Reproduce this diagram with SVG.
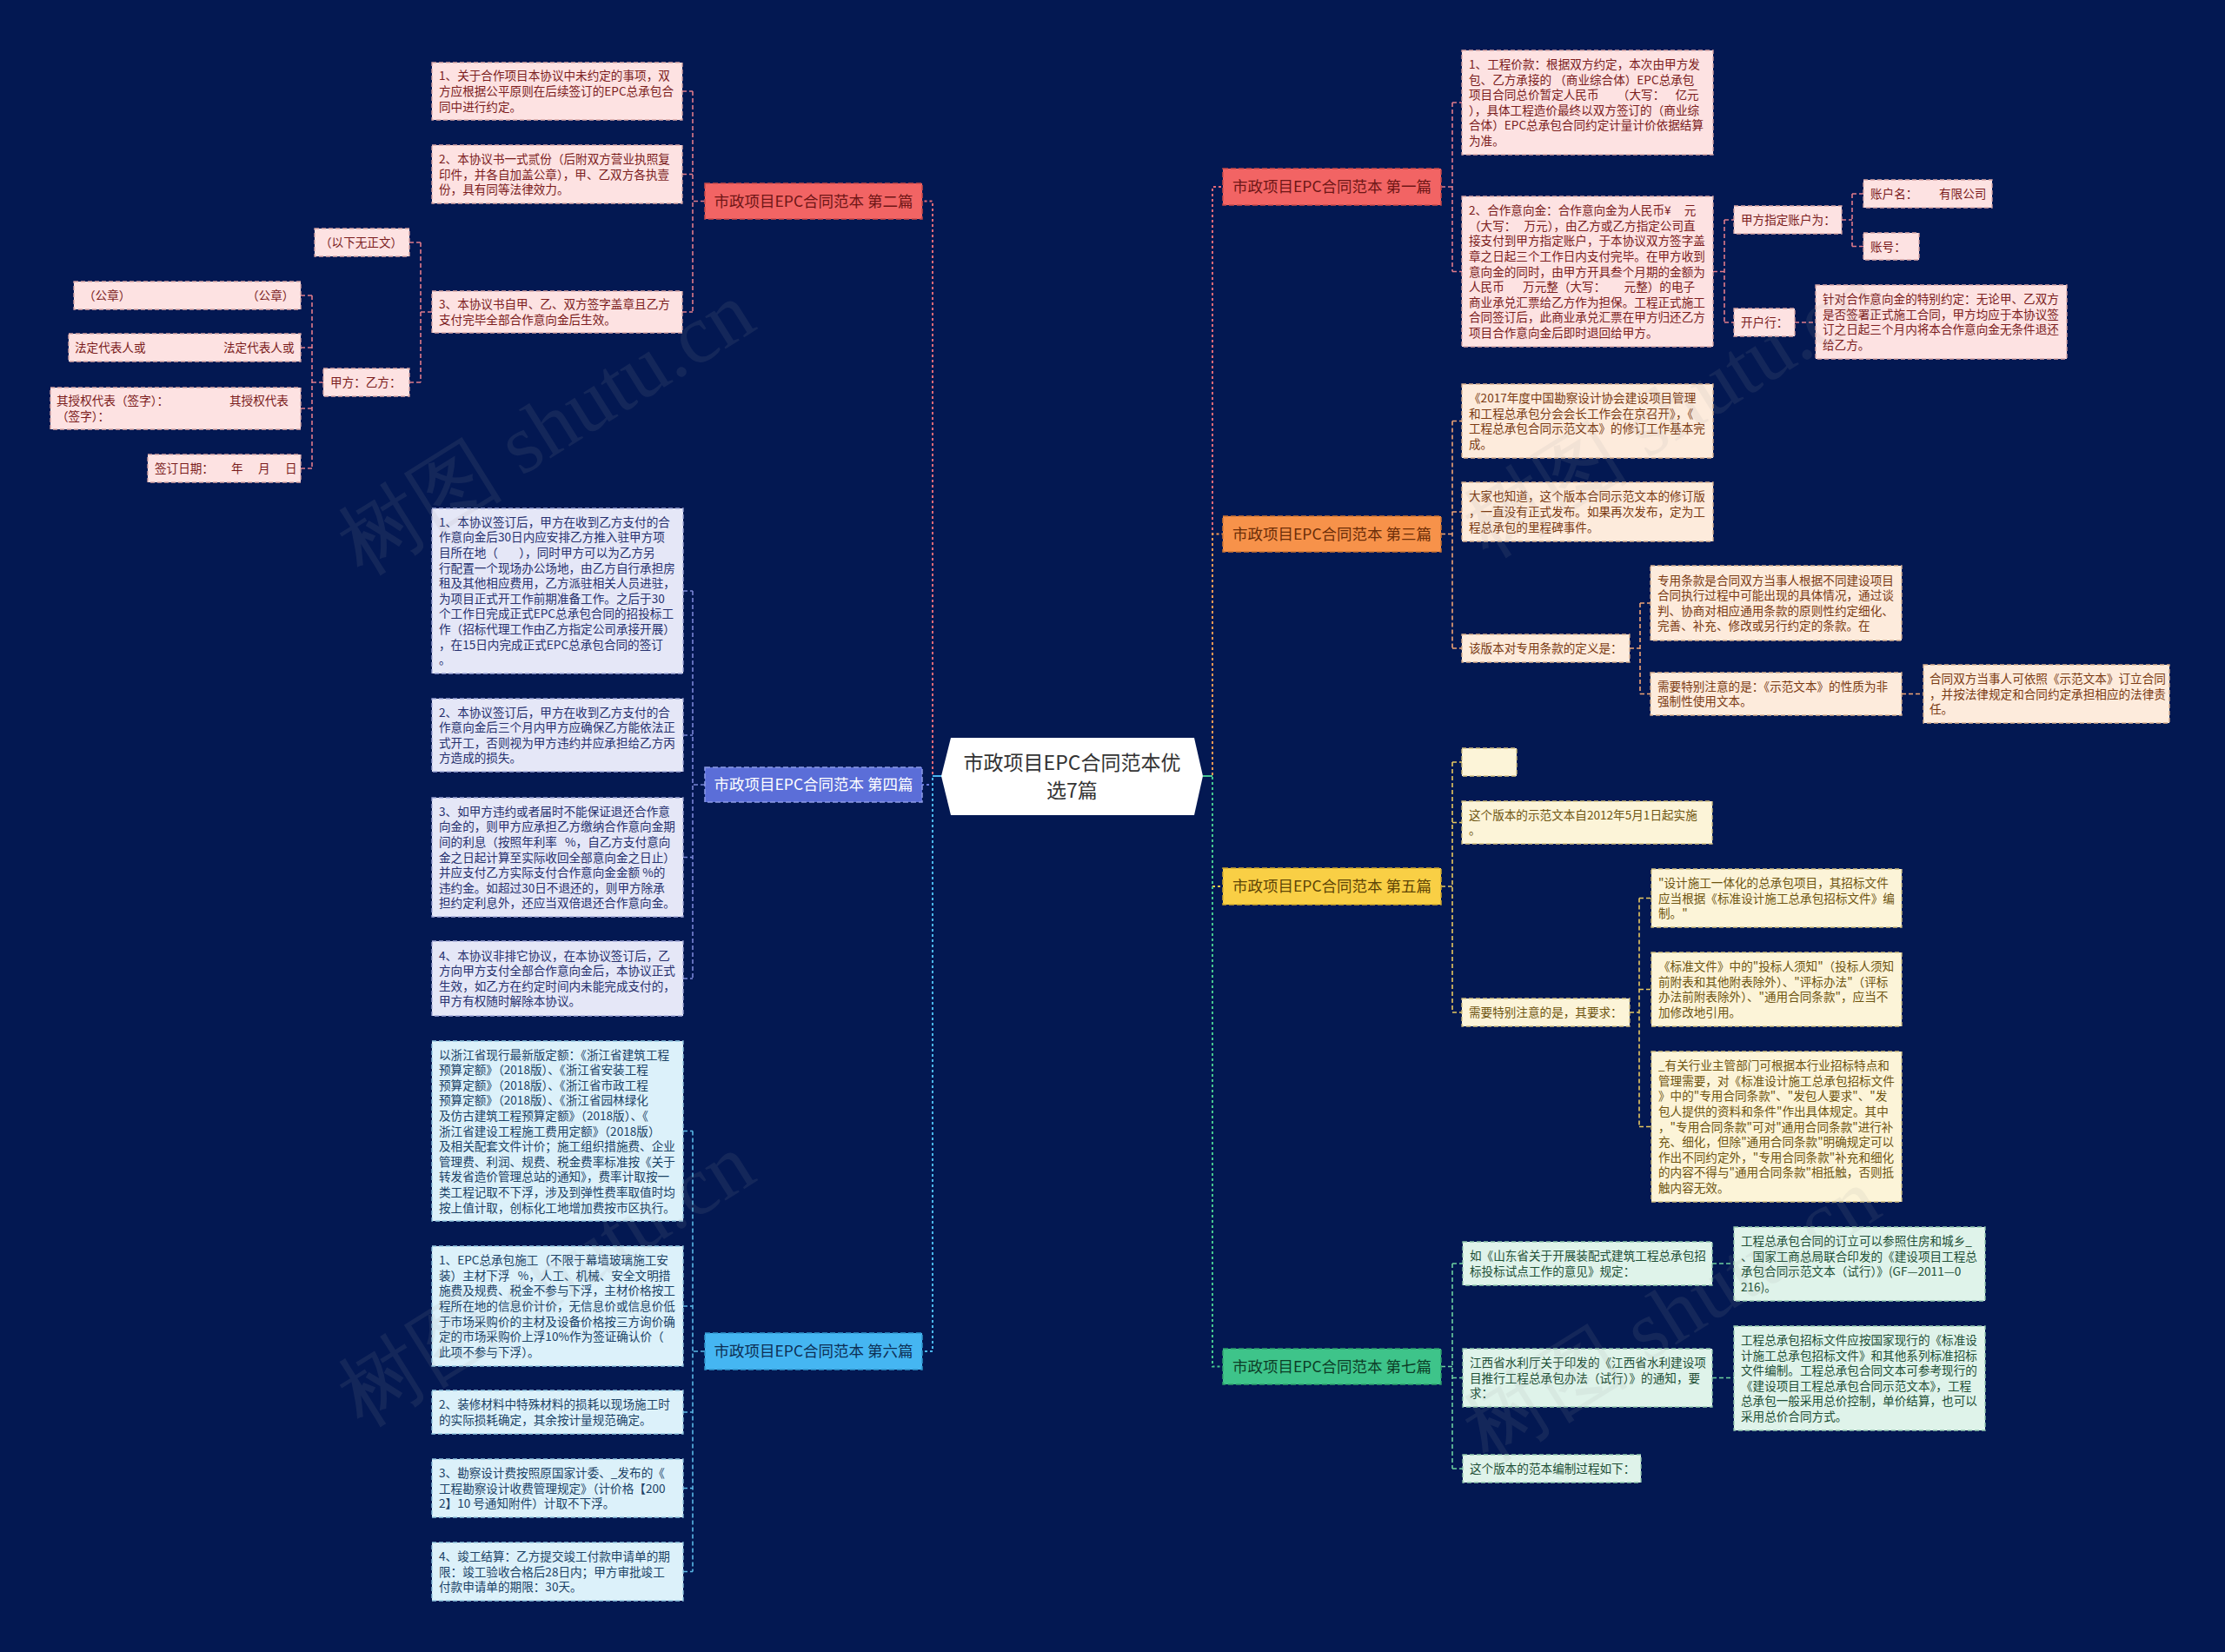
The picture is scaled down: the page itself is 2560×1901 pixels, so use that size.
<svg xmlns="http://www.w3.org/2000/svg" width="2560" height="1901" viewBox="0 0 2560 1901">
<style>
text{font-family:"Noto Sans CJK SC","Microsoft YaHei","Noto Sans",sans-serif;}
.t{font-size:13.6px;}
.bx{stroke-width:1.3;stroke-dasharray:5 3;}
.pk{fill:#fde2e2;stroke:#d9a6a6;}
.pkt{fill:#7b1c1c;}
.pe{fill:#fdebdc;stroke:#d9b08e;}
.pet{fill:#7a3a12;}
.ye{fill:#fcf4d8;stroke:#d2bf80;}
.yet{fill:#6e5410;}
.gr{fill:#dff3ea;stroke:#94c9ae;}
.grt{fill:#1e4f36;}
.lv{fill:#e5e7f7;stroke:#a3a9d8;}
.lvt{fill:#26306e;}
.cy{fill:#dcf1fa;stroke:#92c6e0;}
.cyt{fill:#1a4266;}
.br{stroke-width:1.5;stroke-dasharray:6 3;}
.bt{font-size:17.5px;text-anchor:middle;}
.cn{fill:none;stroke-width:1.6;stroke-dasharray:5 3;}
.mc{fill:none;stroke-width:2;stroke-dasharray:3 3;}
.wm{font-family:"Liberation Serif",serif;font-size:96px;fill:#a0a0a0;opacity:0.11;}
</style>
<rect width="2560" height="1901" fill="#031852"/>

<g id="connectors">
  <path class="mc" stroke="#e56b78" d="M1083,893 H1073 V231.5 H1061"/>
  <path class="mc" stroke="#6878d8" d="M1083,893 H1073 V903 H1061"/>
  <path class="mc" stroke="#4ab7ee" d="M1083,893 H1073 V1555 H1061"/>
  <path class="mc" stroke="#e56b78" d="M1384,893 H1395 V215 H1407"/>
  <path class="mc" stroke="#f39a55" d="M1384,893 H1395 V614.5 H1407"/>
  <path class="mc" stroke="#f2cb45" d="M1384,893 H1395 V1020 H1407"/>
  <path class="mc" stroke="#45c690" d="M1384,893 H1395 V1572.5 H1407"/>
  <path fill="none" stroke="#4ab7ee" stroke-width="2" d="M1073,893 H1084"/>
  <path fill="none" stroke="#45c690" stroke-width="2" d="M1384,893 H1395"/>

  <path class="cn" stroke="#e07b8a" d="M811,231.5 H797 M797,105 V359 M785,105 H797 M785,200.5 H797 M785,359 H797"/>
  <path class="cn" stroke="#e07b8a" d="M497,359 H484 M484,279 V440 M471,279 H484 M471,440 H484"/>
  <path class="cn" stroke="#e07b8a" d="M372,440 H359 M359,340 V539 M346,340 H359 M346,400 H359 M346,470 H359 M346,539 H359"/>
  <path class="cn" stroke="#7a85d6" d="M811,903 H797 M797,680 V1126 M786,680 H797 M786,846 H797 M786,986.5 H797 M786,1126 H797"/>
  <path class="cn" stroke="#5ab8e6" d="M811,1555 H797 M797,1301.5 V1808.5 M786,1301.5 H797 M786,1503 H797 M786,1625 H797 M786,1712.5 H797 M786,1808.5 H797"/>
  <path class="cn" stroke="#e07b8a" d="M1658,215 H1671 M1671,118 V312.5 M1671,118 H1682 M1671,312.5 H1682"/>
  <path class="cn" stroke="#e07b8a" d="M1971,312.5 H1984 M1984,253 V371 M1984,253 H1995 M1984,371 H1995"/>
  <path class="cn" stroke="#e07b8a" d="M2119,253 H2131 M2131,223 V283.5 M2131,223 H2144 M2131,283.5 H2144"/>
  <path class="cn" stroke="#e07b8a" d="M2065,371 H2089"/>
  <path class="cn" stroke="#f0a474" d="M1658,614.5 H1671 M1671,484.5 V746 M1671,484.5 H1682 M1671,589 H1682 M1671,746 H1682"/>
  <path class="cn" stroke="#f0a474" d="M1875,746 H1887 M1887,694 V798.5 M1887,694 H1899 M1887,798.5 H1899"/>
  <path class="cn" stroke="#f0a474" d="M2188,798.5 H2213"/>
  <path class="cn" stroke="#e8c860" d="M1658,1020 H1671 M1671,877 V1165 M1671,877 H1682 M1671,946.5 H1682 M1671,1165 H1682"/>
  <path class="cn" stroke="#e8c860" d="M1875,1165 H1886 M1886,1033.5 V1296.5 M1886,1033.5 H1900 M1886,1138.5 H1900 M1886,1296.5 H1900"/>
  <path class="cn" stroke="#6ccfa0" d="M1658,1572.5 H1671 M1671,1454 V1690 M1671,1454 H1683 M1671,1585.5 H1683 M1671,1690 H1683"/>
  <path class="cn" stroke="#6ccfa0" d="M1970,1454 H1995 M1970,1585.5 H1995"/>
</g>

<g id="center">
  <polygon points="1083,893 1094,849 1374,849 1384,893 1374,938 1094,938" fill="#ffffff"/>
  <text x="1233.5" y="886" font-size="23" fill="#333333" text-anchor="middle">市政项目EPC合同范本优</text>
  <text x="1233.5" y="918" font-size="23" fill="#333333" text-anchor="middle">选7篇</text>
</g>

<g id="b1"><rect class="br" x="1407" y="194" width="251" height="42" fill="#f26464" stroke="#c94848"/><text class="bt" x="1532.5" y="221" fill="#6e1616">市政项目EPC合同范本 第一篇</text></g>
<g id="b2"><rect class="br" x="811" y="211" width="250" height="41" fill="#f26464" stroke="#c94848"/><text class="bt" x="936" y="237.5" fill="#6e1616">市政项目EPC合同范本 第二篇</text></g>
<g id="b3"><rect class="br" x="1407" y="594" width="251" height="41" fill="#f7924a" stroke="#cf7432"/><text class="bt" x="1532.5" y="620.5" fill="#6b2d08">市政项目EPC合同范本 第三篇</text></g>
<g id="b4"><rect class="br" x="811" y="883" width="250" height="40" fill="#5b6ed8" stroke="#8d9ae6"/><text class="bt" x="936" y="909" fill="#ffffff">市政项目EPC合同范本 第四篇</text></g>
<g id="b5"><rect class="br" x="1407" y="999" width="251" height="42" fill="#f9cf45" stroke="#cfa82c"/><text class="bt" x="1532.5" y="1026" fill="#5e4506">市政项目EPC合同范本 第五篇</text></g>
<g id="b6"><rect class="br" x="811" y="1534" width="250" height="42" fill="#45b6f2" stroke="#2f94cc"/><text class="bt" x="936" y="1561" fill="#0d2f55">市政项目EPC合同范本 第六篇</text></g>
<g id="b7"><rect class="br" x="1407" y="1552" width="251" height="41" fill="#3ec48a" stroke="#2c9e6c"/><text class="bt" x="1532.5" y="1578.5" fill="#0c3d27">市政项目EPC合同范本 第七篇</text></g>

<g id="n2-1"><rect class="bx pk" x="497" y="72" width="288" height="66"/><text class="t pkt"><tspan x="505" y="92.4">1、关于合作项目本协议中未约定的事项，双</tspan><tspan x="505" y="110">方应根据公平原则在后续签订的EPC总承包合</tspan><tspan x="505" y="127.6">同中进行约定。</tspan></text></g>
<g id="n2-2"><rect class="bx pk" x="497" y="167" width="288" height="67"/><text class="t pkt"><tspan x="505" y="187.9">2、本协议书一式贰份（后附双方营业执照复</tspan><tspan x="505" y="205.5">印件，并各自加盖公章），甲、乙双方各执壹</tspan><tspan x="505" y="223.1">份，具有同等法律效力。</tspan></text></g>
<g id="n2-3"><rect class="bx pk" x="497" y="335" width="288" height="48"/><text class="t pkt"><tspan x="505" y="355.2">3、本协议书自甲、乙、双方签字盖章且乙方</tspan><tspan x="505" y="372.8">支付完毕全部合作意向金后生效。</tspan></text></g>
<g id="n2-3a"><rect class="bx pk" x="362" y="263" width="109" height="32"/><text class="t pkt" x="368" y="284">（以下无正文）</text></g>
<g id="n2-3b"><rect class="bx pk" x="372" y="424" width="99" height="32"/><text class="t pkt" x="380" y="445">甲方：乙方：</text></g>
<g id="n2-3b1"><rect class="bx pk" x="85" y="324" width="261" height="32"/><text class="t pkt"><tspan x="96" y="345">（公章）</tspan><tspan x="284" y="345">（公章）</tspan></text></g>
<g id="n2-3b2"><rect class="bx pk" x="79" y="384" width="267" height="32"/><text class="t pkt"><tspan x="86" y="405">法定代表人或</tspan><tspan x="257" y="405">法定代表人或</tspan></text></g>
<g id="n2-3b3"><rect class="bx pk" x="58" y="446" width="288" height="48"/><text class="t pkt"><tspan x="65" y="466.2">其授权代表（签字）：</tspan><tspan x="264" y="466.2">其授权代表</tspan><tspan x="65" y="483.8">（签字）：</tspan></text></g>
<g id="n2-3b4"><rect class="bx pk" x="170" y="523" width="176" height="32"/><text class="t pkt"><tspan x="178" y="544">签订日期：</tspan><tspan x="266" y="544">年</tspan><tspan x="297" y="544">月</tspan><tspan x="328" y="544">日</tspan></text></g>

<g id="n4-1"><rect class="bx lv" x="497" y="585" width="289" height="190"/><text class="t lvt"><tspan x="505" y="605.8">1、本协议签订后，甲方在收到乙方支付的合</tspan><tspan x="505" y="623.4">作意向金后30日内应安排乙方推入驻甲方项</tspan><tspan x="505" y="641" xml:space="preserve">目所在地（        ），同时甲方可以为乙方另</tspan><tspan x="505" y="658.6">行配置一个现场办公场地，由乙方自行承担房</tspan><tspan x="505" y="676.2">租及其他相应费用，乙方派驻相关人员进驻，</tspan><tspan x="505" y="693.8">为项目正式开工作前期准备工作。之后于30</tspan><tspan x="505" y="711.4">个工作日完成正式EPC总承包合同的招投标工</tspan><tspan x="505" y="729">作（招标代理工作由乙方指定公司承接开展）</tspan><tspan x="505" y="746.6">，在15日内完成正式EPC总承包合同的签订</tspan><tspan x="505" y="764.2">。</tspan></text></g>
<g id="n4-2"><rect class="bx lv" x="497" y="804" width="289" height="84"/><text class="t lvt"><tspan x="505" y="824.6">2、本协议签订后，甲方在收到乙方支付的合</tspan><tspan x="505" y="842.2">作意向金后三个月内甲方应确保乙方能依法正</tspan><tspan x="505" y="859.8">式开工，否则视为甲方违约并应承担给乙方丙</tspan><tspan x="505" y="877.4">方造成的损失。</tspan></text></g>
<g id="n4-3"><rect class="bx lv" x="497" y="918" width="289" height="137"/><text class="t lvt"><tspan x="505" y="938.7">3、如甲方违约或者届时不能保证退还合作意</tspan><tspan x="505" y="956.3">向金的，则甲方应承担乙方缴纳合作意向金期</tspan><tspan x="505" y="973.9" xml:space="preserve">间的利息（按照年利率   %，自乙方支付意向</tspan><tspan x="505" y="991.5">金之日起计算至实际收回全部意向金之日止）</tspan><tspan x="505" y="1009.1">并应支付乙方实际支付合作意向金金额 %的</tspan><tspan x="505" y="1026.7">违约金。如超过30日不退还的，则甲方除承</tspan><tspan x="505" y="1044.3">担约定利息外，还应当双倍退还合作意向金。</tspan></text></g>
<g id="n4-4"><rect class="bx lv" x="497" y="1083" width="289" height="86"/><text class="t lvt"><tspan x="505" y="1104.6">4、本协议非排它协议，在本协议签订后，乙</tspan><tspan x="505" y="1122.2">方向甲方支付全部合作意向金后，本协议正式</tspan><tspan x="505" y="1139.8">生效，如乙方在约定时间内未能完成支付的，</tspan><tspan x="505" y="1157.4">甲方有权随时解除本协议。</tspan></text></g>

<g id="n6-1"><rect class="bx cy" x="497" y="1198" width="289" height="207"/><text class="t cyt"><tspan x="505" y="1218.5">以浙江省现行最新版定额：《浙江省建筑工程</tspan><tspan x="505" y="1236.1">预算定额》（2018版）、《浙江省安装工程</tspan><tspan x="505" y="1253.7">预算定额》（2018版）、《浙江省市政工程</tspan><tspan x="505" y="1271.3">预算定额》（2018版）、《浙江省园林绿化</tspan><tspan x="505" y="1288.9">及仿古建筑工程预算定额》（2018版）、《</tspan><tspan x="505" y="1306.5">浙江省建设工程施工费用定额》（2018版）</tspan><tspan x="505" y="1324.1">及相关配套文件计价；施工组织措施费、企业</tspan><tspan x="505" y="1341.7">管理费、利润、规费、税金费率标准按《关于</tspan><tspan x="505" y="1359.3">转发省造价管理总站的通知》，费率计取按一</tspan><tspan x="505" y="1376.9">类工程记取不下浮，涉及到弹性费率取值时均</tspan><tspan x="505" y="1394.5">按上值计取，创标化工地增加费按市区执行。</tspan></text></g>
<g id="n6-2"><rect class="bx cy" x="497" y="1434" width="289" height="138"/><text class="t cyt"><tspan x="505" y="1455.2">1、EPC总承包施工（不限于幕墙玻璃施工安</tspan><tspan x="505" y="1472.8" xml:space="preserve">装）主材下浮   %，人工、机械、安全文明措</tspan><tspan x="505" y="1490.4">施费及规费、税金不参与下浮，主材价格按工</tspan><tspan x="505" y="1508">程所在地的信息价计价，无信息价或信息价低</tspan><tspan x="505" y="1525.6">于市场采购价的主材及设备价格按三方询价确</tspan><tspan x="505" y="1543.2">定的市场采购价上浮10%作为签证确认价（</tspan><tspan x="505" y="1560.8">此项不参与下浮）。</tspan></text></g>
<g id="n6-3"><rect class="bx cy" x="497" y="1600" width="289" height="50"/><text class="t cyt"><tspan x="505" y="1621.2">2、装修材料中特殊材料的损耗以现场施工时</tspan><tspan x="505" y="1638.8">的实际损耗确定，其余按计量规范确定。</tspan></text></g>
<g id="n6-4"><rect class="bx cy" x="497" y="1679" width="289" height="67"/><text class="t cyt"><tspan x="505" y="1699.9">3、勘察设计费按照原国家计委、_发布的《</tspan><tspan x="505" y="1717.5">工程勘察设计收费管理规定》（计价格【200</tspan><tspan x="505" y="1735.1">2】10 号通知附件）计取不下浮。</tspan></text></g>
<g id="n6-5"><rect class="bx cy" x="497" y="1775" width="289" height="67"/><text class="t cyt"><tspan x="505" y="1795.9">4、竣工结算：乙方提交竣工付款申请单的期</tspan><tspan x="505" y="1813.5">限：竣工验收合格后28日内；甲方审批竣工</tspan><tspan x="505" y="1831.1">付款申请单的期限：30天。</tspan></text></g>

<g id="n1-1"><rect class="bx pk" x="1682" y="58" width="289" height="120"/><text class="t pkt"><tspan x="1690" y="79">1、工程价款：根据双方约定，本次由甲方发</tspan><tspan x="1690" y="96.6">包、乙方承接的 （商业综合体）EPC总承包</tspan><tspan x="1690" y="114.2" xml:space="preserve">项目合同总价暂定人民币       （大写：    亿元</tspan><tspan x="1690" y="131.8">），具体工程造价最终以双方签订的（商业综</tspan><tspan x="1690" y="149.4">合体）EPC总承包合同约定计量计价依据结算</tspan><tspan x="1690" y="167">为准。</tspan></text></g>
<g id="n1-2"><rect class="bx pk" x="1682" y="226" width="289" height="173"/><text class="t pkt"><tspan x="1690" y="247.1" xml:space="preserve">2、合作意向金：合作意向金为人民币¥     元</tspan><tspan x="1690" y="264.7" xml:space="preserve">（大写：   万元），由乙方或乙方指定公司直</tspan><tspan x="1690" y="282.3">接支付到甲方指定账户，于本协议双方签字盖</tspan><tspan x="1690" y="299.9">章之日起三个工作日内支付完毕。在甲方收到</tspan><tspan x="1690" y="317.5">意向金的同时，由甲方开具叁个月期的金额为</tspan><tspan x="1690" y="335.1" xml:space="preserve">人民币       万元整（大写：       元整）的电子</tspan><tspan x="1690" y="352.7">商业承兑汇票给乙方作为担保。工程正式施工</tspan><tspan x="1690" y="370.3">合同签订后，此商业承兑汇票在甲方归还乙方</tspan><tspan x="1690" y="387.9">项目合作意向金后即时退回给甲方。</tspan></text></g>
<g id="n1-2a"><rect class="bx pk" x="1995" y="237" width="124" height="32"/><text class="t pkt" x="2003" y="258">甲方指定账户为：</text></g>
<g id="n1-2a1"><rect class="bx pk" x="2144" y="207" width="148" height="32"/><text class="t pkt"><tspan x="2152" y="228">账户名：</tspan><tspan x="2231" y="228">有限公司</tspan></text></g>
<g id="n1-2a2"><rect class="bx pk" x="2144" y="268" width="64" height="31"/><text class="t pkt" x="2152" y="288.6">账号：</text></g>
<g id="n1-2b"><rect class="bx pk" x="1995" y="355" width="70" height="32"/><text class="t pkt" x="2003" y="376">开户行：</text></g>
<g id="n1-2b1"><rect class="bx pk" x="2089" y="328" width="289" height="85"/><text class="t pkt"><tspan x="2097" y="349.1">针对合作意向金的特别约定：无论甲、乙双方</tspan><tspan x="2097" y="366.7">是否签署正式施工合同，甲方均应于本协议签</tspan><tspan x="2097" y="384.3">订之日起三个月内将本合作意向金无条件退还</tspan><tspan x="2097" y="401.9">给乙方。</tspan></text></g>

<g id="n3-1"><rect class="bx pe" x="1682" y="442" width="289" height="85"/><text class="t pet"><tspan x="1690" y="463.1">《2017年度中国勘察设计协会建设项目管理</tspan><tspan x="1690" y="480.7">和工程总承包分会会长工作会在京召开》，《</tspan><tspan x="1690" y="498.3">工程总承包合同示范文本》的修订工作基本完</tspan><tspan x="1690" y="515.9">成。</tspan></text></g>
<g id="n3-2"><rect class="bx pe" x="1682" y="555" width="289" height="68"/><text class="t pet"><tspan x="1690" y="576.4">大家也知道，这个版本合同示范文本的修订版</tspan><tspan x="1690" y="594">，一直没有正式发布。如果再次发布，定为工</tspan><tspan x="1690" y="611.6">程总承包的里程碑事件。</tspan></text></g>
<g id="n3-3"><rect class="bx pe" x="1682" y="730" width="193" height="32"/><text class="t pet" x="1690" y="751">该版本对专用条款的定义是：</text></g>
<g id="n3-3a"><rect class="bx pe" x="1899" y="651" width="289" height="86"/><text class="t pet"><tspan x="1907" y="672.6">专用条款是合同双方当事人根据不同建设项目</tspan><tspan x="1907" y="690.2">合同执行过程中可能出现的具体情况，通过谈</tspan><tspan x="1907" y="707.8">判、协商对相应通用条款的原则性约定细化、</tspan><tspan x="1907" y="725.4">完善、补充、修改或另行约定的条款。在</tspan></text></g>
<g id="n3-3b"><rect class="bx pe" x="1899" y="774" width="289" height="49"/><text class="t pet"><tspan x="1907" y="794.7">需要特别注意的是：《示范文本》的性质为非</tspan><tspan x="1907" y="812.3">强制性使用文本。</tspan></text></g>
<g id="n3-3b1"><rect class="bx pe" x="2213" y="765" width="283" height="67"/><text class="t pet"><tspan x="2220" y="785.9">合同双方当事人可依照《示范文本》订立合同</tspan><tspan x="2220" y="803.5">，并按法律规定和合同约定承担相应的法律责</tspan><tspan x="2220" y="821.1">任。</tspan></text></g>

<g id="n5-1"><rect class="bx ye" x="1682" y="861" width="63" height="32"/></g>
<g id="n5-2"><rect class="bx ye" x="1682" y="922" width="288" height="49"/><text class="t yet"><tspan x="1690" y="942.7">这个版本的示范文本自2012年5月1日起实施</tspan><tspan x="1690" y="960.3">。</tspan></text></g>
<g id="n5-3"><rect class="bx ye" x="1682" y="1149" width="193" height="32"/><text class="t yet" x="1690" y="1170">需要特别注意的是，其要求：</text></g>
<g id="n5-3a"><rect class="bx ye" x="1900" y="1000" width="288" height="67"/><text class="t yet"><tspan x="1908" y="1020.9">"设计施工一体化的总承包项目，其招标文件</tspan><tspan x="1908" y="1038.5">应当根据《标准设计施工总承包招标文件》编</tspan><tspan x="1908" y="1056.1">制。"</tspan></text></g>
<g id="n5-3b"><rect class="bx ye" x="1900" y="1096" width="288" height="85"/><text class="t yet"><tspan x="1908" y="1117.1">《标准文件》中的"投标人须知"（投标人须知</tspan><tspan x="1908" y="1134.7">前附表和其他附表除外）、"评标办法"（评标</tspan><tspan x="1908" y="1152.3">办法前附表除外）、"通用合同条款"，应当不</tspan><tspan x="1908" y="1169.9">加修改地引用。</tspan></text></g>
<g id="n5-3c"><rect class="bx ye" x="1900" y="1210" width="288" height="173"/><text class="t yet"><tspan x="1908" y="1231.1">_有关行业主管部门可根据本行业招标特点和</tspan><tspan x="1908" y="1248.7">管理需要，对《标准设计施工总承包招标文件</tspan><tspan x="1908" y="1266.3">》中的"专用合同条款"、"发包人要求"、"发</tspan><tspan x="1908" y="1283.9">包人提供的资料和条件"作出具体规定。其中</tspan><tspan x="1908" y="1301.5">，"专用合同条款"可对"通用合同条款"进行补</tspan><tspan x="1908" y="1319.1">充、细化，但除"通用合同条款"明确规定可以</tspan><tspan x="1908" y="1336.7">作出不同约定外，"专用合同条款"补充和细化</tspan><tspan x="1908" y="1354.3">的内容不得与"通用合同条款"相抵触，否则抵</tspan><tspan x="1908" y="1371.9">触内容无效。</tspan></text></g>

<g id="n7-1"><rect class="bx gr" x="1683" y="1429" width="287" height="50"/><text class="t grt"><tspan x="1691" y="1450.2">如《山东省关于开展装配式建筑工程总承包招</tspan><tspan x="1691" y="1467.8">标投标试点工作的意见》规定：</tspan></text></g>
<g id="n7-1a"><rect class="bx gr" x="1995" y="1412" width="289" height="85"/><text class="t grt"><tspan x="2003" y="1433.1">工程总承包合同的订立可以参照住房和城乡_</tspan><tspan x="2003" y="1450.7">、国家工商总局联合印发的《建设项目工程总</tspan><tspan x="2003" y="1468.3">承包合同示范文本（试行）》(GF—2011—0</tspan><tspan x="2003" y="1485.9">216)。</tspan></text></g>
<g id="n7-2"><rect class="bx gr" x="1683" y="1552" width="287" height="67"/><text class="t grt"><tspan x="1691" y="1572.9">江西省水利厅关于印发的《江西省水利建设项</tspan><tspan x="1691" y="1590.5">目推行工程总承包办法（试行）》的通知，要</tspan><tspan x="1691" y="1608.1">求：</tspan></text></g>
<g id="n7-2a"><rect class="bx gr" x="1995" y="1526" width="289" height="120"/><text class="t grt"><tspan x="2003" y="1547">工程总承包招标文件应按国家现行的《标准设</tspan><tspan x="2003" y="1564.6">计施工总承包招标文件》和其他系列标准招标</tspan><tspan x="2003" y="1582.2">文件编制。工程总承包合同文本可参考现行的</tspan><tspan x="2003" y="1599.8">《建设项目工程总承包合同示范文本》，工程</tspan><tspan x="2003" y="1617.4">总承包一般采用总价控制，单价结算，也可以</tspan><tspan x="2003" y="1635">采用总价合同方式。</tspan></text></g>
<g id="n7-3"><rect class="bx gr" x="1683" y="1674" width="205" height="32"/><text class="t grt" x="1691" y="1695">这个版本的范本编制过程如下：</text></g>

<g id="watermarks">
  <text class="wm" transform="translate(645,520) rotate(-32)" text-anchor="middle">树图 shutu.cn</text>
  <text class="wm" transform="translate(645,1500) rotate(-32)" text-anchor="middle">树图 shutu.cn</text>
  <text class="wm" transform="translate(1940,500) rotate(-32)" text-anchor="middle">树图 shutu.cn</text>
  <text class="wm" transform="translate(1940,1540) rotate(-32)" text-anchor="middle">树图 shutu.cn</text>
</g>
</svg>
